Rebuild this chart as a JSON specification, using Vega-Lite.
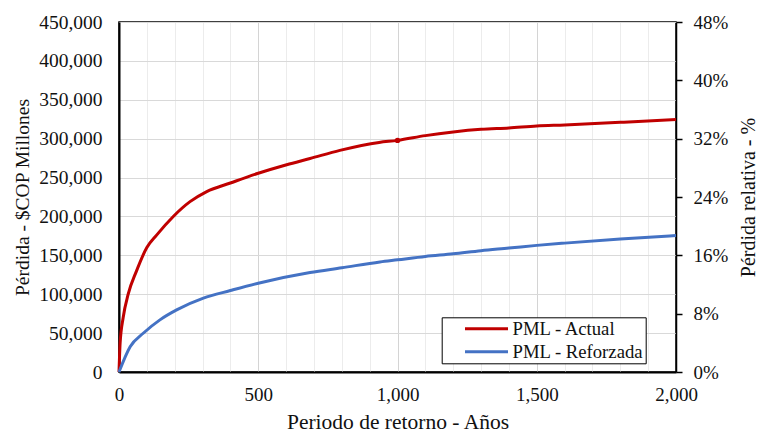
{
  "$schema": "https://vega.github.io/schema/vega-lite/v6.json",
  "width": 557,
  "height": 350,
  "autosize": {"type": "none"},
  "padding": {"left": 119, "top": 22, "right": 83, "bottom": 60},
  "background": "white",
  "config": {
    "view": {"stroke": "black", "strokeWidth": 1.5},
    "font": "Liberation Serif",
    "axis": {"labelFont": "Liberation Serif", "titleFont": "Liberation Serif", "labelColor": "#111111", "titleColor": "#111111", "titleFontWeight": "normal", "labelOverlap": false, "labelFontSize": 19, "titleFontSize": 20},
    "legend": {"labelFont": "Liberation Serif"}
  },
  "data": {
    "values": [
      {"T": 0, "loss": 0, "series": "PML - Actual"},
      {"T": 4, "loss": 37000, "series": "PML - Actual"},
      {"T": 15, "loss": 70000, "series": "PML - Actual"},
      {"T": 33, "loss": 100000, "series": "PML - Actual"},
      {"T": 63, "loss": 130000, "series": "PML - Actual"},
      {"T": 100, "loss": 160000, "series": "PML - Actual"},
      {"T": 135, "loss": 176000, "series": "PML - Actual"},
      {"T": 195, "loss": 200000, "series": "PML - Actual"},
      {"T": 255, "loss": 219000, "series": "PML - Actual"},
      {"T": 315, "loss": 232000, "series": "PML - Actual"},
      {"T": 400, "loss": 243000, "series": "PML - Actual"},
      {"T": 500, "loss": 255500, "series": "PML - Actual"},
      {"T": 602, "loss": 266500, "series": "PML - Actual"},
      {"T": 686, "loss": 274500, "series": "PML - Actual"},
      {"T": 793, "loss": 285000, "series": "PML - Actual"},
      {"T": 934, "loss": 295200, "series": "PML - Actual"},
      {"T": 1000, "loss": 297800, "series": "PML - Actual"},
      {"T": 1100, "loss": 303900, "series": "PML - Actual"},
      {"T": 1200, "loss": 308600, "series": "PML - Actual"},
      {"T": 1300, "loss": 312000, "series": "PML - Actual"},
      {"T": 1400, "loss": 313800, "series": "PML - Actual"},
      {"T": 1500, "loss": 316300, "series": "PML - Actual"},
      {"T": 1600, "loss": 317600, "series": "PML - Actual"},
      {"T": 1800, "loss": 321000, "series": "PML - Actual"},
      {"T": 2000, "loss": 324500, "series": "PML - Actual"},
      {"T": 0, "loss": 0, "series": "PML - Reforzada"},
      {"T": 40, "loss": 32600, "series": "PML - Reforzada"},
      {"T": 87, "loss": 49800, "series": "PML - Reforzada"},
      {"T": 147, "loss": 67000, "series": "PML - Reforzada"},
      {"T": 207, "loss": 79800, "series": "PML - Reforzada"},
      {"T": 303, "loss": 94900, "series": "PML - Reforzada"},
      {"T": 400, "loss": 104700, "series": "PML - Reforzada"},
      {"T": 500, "loss": 114200, "series": "PML - Reforzada"},
      {"T": 686, "loss": 127900, "series": "PML - Reforzada"},
      {"T": 800, "loss": 134000, "series": "PML - Reforzada"},
      {"T": 937, "loss": 141500, "series": "PML - Reforzada"},
      {"T": 1000, "loss": 144200, "series": "PML - Reforzada"},
      {"T": 1100, "loss": 148500, "series": "PML - Reforzada"},
      {"T": 1200, "loss": 151900, "series": "PML - Reforzada"},
      {"T": 1300, "loss": 156000, "series": "PML - Reforzada"},
      {"T": 1400, "loss": 159300, "series": "PML - Reforzada"},
      {"T": 1500, "loss": 162800, "series": "PML - Reforzada"},
      {"T": 1600, "loss": 165700, "series": "PML - Reforzada"},
      {"T": 1800, "loss": 170900, "series": "PML - Reforzada"},
      {"T": 2000, "loss": 175500, "series": "PML - Reforzada"}
    ]
  },
  "layer": [
    {
      "mark": {"type": "line", "strokeWidth": 3, "interpolate": "monotone"},
      "encoding": {
        "x": {
          "field": "T", "type": "quantitative",
          "scale": {"domain": [0, 2000], "nice": false},
          "axis": {
            "values": [0,100,200,300,400,500,600,700,800,900,1000,1100,1200,1300,1400,1500,1600,1700,1800,1900,2000],
            "format": ",d",
            "labelExpr": "datum.value % 500 === 0 ? datum.label : ''",
            "labelFontSize": 19,
            "labelBaseline": "alphabetic",
            "labelPadding": 28,
            "labelFlush": false,
            "labelOverlap": false,
            "ticks": false,
            "domainColor": "black",
            "domainWidth": 2,
            "gridColor": {"condition": {"test": "datum.value % 500 === 0", "value": "#d4d4d4"}, "value": "#ececec"},
            "gridWidth": 1,
            "title": "Periodo de retorno - Años",
            "titleFontSize": 21.5,
            "titleX": 278.5,
            "titleY": 56,
            "titleBaseline": "alphabetic",
            "titleAlign": "center"
          }
        },
        "y": {
          "field": "loss", "type": "quantitative",
          "scale": {"domain": [0, 450000], "nice": false},
          "axis": {
            "values": [0,50000,100000,150000,200000,250000,300000,350000,400000,450000],
            "format": ",d",
            "labelFontSize": 19.5,
            "labelPadding": 17,
            "labelOverlap": false,
            "ticks": false,
            "domainColor": "black",
            "domainWidth": 2,
            "gridColor": "#d9d9d9",
            "gridWidth": 1,
            "title": "Pérdida - $COP Millones",
            "titleFontSize": 19.5,
            "titleAngle": -90,
            "titleX": -97,
            "titleY": 175,
            "titleBaseline": "middle",
            "titleAlign": "center"
          }
        },
        "color": {
          "field": "series", "type": "nominal",
          "scale": {"domain": ["PML - Actual", "PML - Reforzada"], "range": ["#C00000", "#4472C4"]},
          "legend": {
            "title": null,
            "orient": "none",
            "legendX": 322.7,
            "legendY": 295.3,
            "symbolType": "stroke",
            "symbolSize": 1849,
            "symbolStrokeWidth": 3,
            "labelFontSize": 18.7,
            "labelColor": "#111111",
            "strokeColor": "black",
            "fillColor": "white",
            "padding": 1.5,
            "symbolOffset": 20.3,
            "clipHeight": 20,
            "rowPadding": 3,
            "labelOffset": 3
          }
        }
      }
    },
    {
      "transform": [{"filter": "datum.T === 1000 && datum.series === 'PML - Actual'"}],
      "mark": {"type": "circle", "size": 30, "color": "#C00000", "opacity": 1},
      "encoding": {
        "x": {
          "field": "T", "type": "quantitative",
          "scale": {"domain": [0, 2000], "nice": false},
          "axis": {
            "values": [0,100,200,300,400,500,600,700,800,900,1000,1100,1200,1300,1400,1500,1600,1700,1800,1900,2000],
            "format": ",d",
            "labelExpr": "datum.value % 500 === 0 ? datum.label : ''",
            "labelFontSize": 19,
            "labelBaseline": "alphabetic",
            "labelPadding": 28,
            "labelFlush": false,
            "labelOverlap": false,
            "ticks": false,
            "domainColor": "black",
            "domainWidth": 2,
            "gridColor": {"condition": {"test": "datum.value % 500 === 0", "value": "#d4d4d4"}, "value": "#ececec"},
            "gridWidth": 1,
            "title": "Periodo de retorno - Años",
            "titleFontSize": 21.5,
            "titleX": 278.5,
            "titleY": 56,
            "titleBaseline": "alphabetic",
            "titleAlign": "center"
          }
        },
        "y": {
          "field": "loss", "type": "quantitative",
          "scale": {"domain": [0, 450000], "nice": false},
          "axis": {
            "orient": "right",
            "values": [0,75000,150000,225000,300000,375000,450000],
            "labelExpr": "format(datum.value / 937500, '.0%')",
            "labelFontSize": 19,
            "labelPadding": 11,
            "labelOverlap": false,
            "ticks": true,
            "tickSize": 6,
            "tickColor": "black",
            "tickWidth": 1.5,
            "domainColor": "black",
            "domainWidth": 1.5,
            "grid": false,
            "title": "Pérdida relativa - %",
            "titleFontSize": 20,
            "titleAngle": -90,
            "titleX": 72,
            "titleY": 175,
            "titleBaseline": "middle",
            "titleAlign": "center"
          }
        }
      }
    }
  ],
  "resolve": {"scale": {"y": "independent"}}
}
